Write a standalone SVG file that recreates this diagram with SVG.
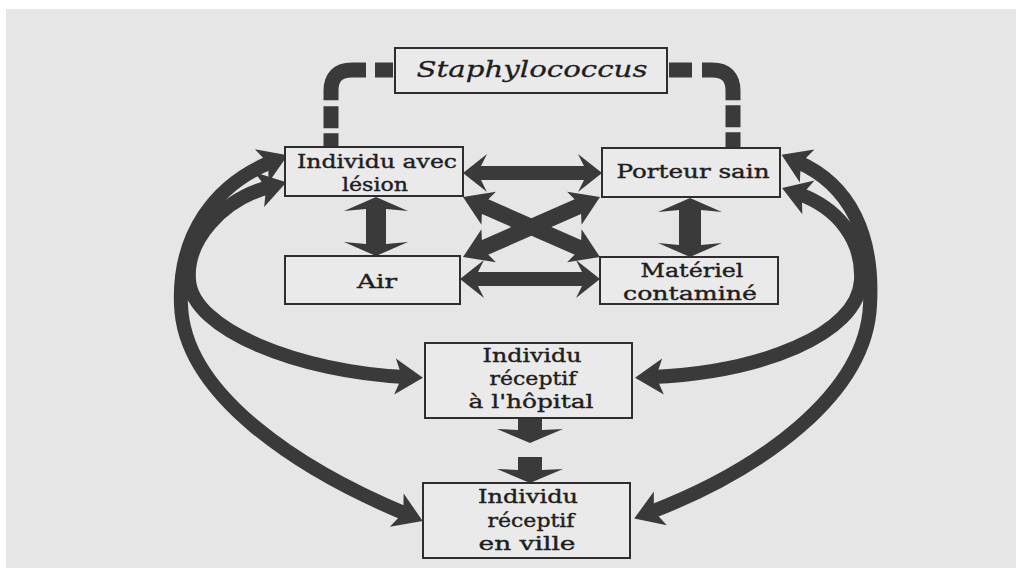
<svg xmlns="http://www.w3.org/2000/svg" width="1016" height="568" viewBox="0 0 1016 568">
<style>
.box{fill:#eaeaea;stroke:#2e2e2e;stroke-width:2}
.t{font-family:"DejaVu Serif","Liberation Serif",serif;font-size:19px;fill:#1e1e1e;stroke:#1e1e1e;stroke-width:0.4;text-anchor:middle}
.ti{font-family:"DejaVu Serif","Liberation Serif",serif;font-style:italic;font-size:23px;fill:#1e1e1e;stroke:#1e1e1e;stroke-width:0.3;text-anchor:middle}
.arr{fill:#3a3a3a}
.cv{fill:none;stroke:#3a3a3a;stroke-width:14;marker-start:url(#ah);marker-end:url(#ah)}
.xa{fill:none;stroke:#3a3a3a;stroke-width:16;marker-start:url(#ah);marker-end:url(#ah)}
.dash{fill:none;stroke:#3a3a3a;stroke-width:15}
</style>
<defs>
<marker id="ah" viewBox="0 -18 28 36" refX="10" refY="0" markerWidth="28" markerHeight="36" markerUnits="userSpaceOnUse" orient="auto-start-reverse" overflow="visible">
<path d="M0,-18 L28,0 L0,18 L7,0 Z" fill="#3a3a3a"/>
</marker>
</defs>
<rect x="0" y="0" width="1016" height="568" fill="#ffffff"/>
<rect x="6" y="9" width="1010" height="559" fill="#e6e6e6"/>

<g id="connectors">
<path class="dash" d="M393,70 H352 Q331,70 331,91 V147" stroke-dasharray="18 9 57 6 22 5 20"/>
<path class="dash" d="M669,70 H712 Q733,70 733,91 V148" stroke-dasharray="23 10 53 5 22 5 20"/>
<polygon class="arr" points="463,173 487,154 481,166 584,166 578,154 602,173 578,192 584,180 481,180 487,192"/>
<polygon class="arr" points="460,279 484,260 478,272 582,272 576,260 600,279 576,298 582,286 478,286 484,298"/>
<polygon class="arr" points="376,197 408,211 386,209 386,244 408,242 376,256 344,242 366,244 366,209 344,211"/>
<polygon class="arr" points="690,198 722,212 701,210 701,245 722,243 690,257 658,243 679,245 679,210 658,212"/>
<path class="xa" d="M479.5,204.2 L583.5,249.8"/>
<path class="xa" d="M479.5,249.8 L583.5,204.2"/>
<path class="cv" d="M271,162 C215,185 178,235 181,305 C184,395 300,470 406,514"/>
<path class="cv" d="M269,187 C222,200 186,240 189,280 C192,330 300,372 405,377"/>
<path class="cv" d="M798,162 C850,185 874,235 870,305 C866,395 760,470 651,512"/>
<path class="cv" d="M799,194 C838,208 863,240 861,280 C858,335 760,372 653,377"/>
<polygon class="arr" points="518,418 542,418 542,430 563,429 530,443 497,429 518,430"/>
<polygon class="arr" points="518,457 542,457 542,470 563,469 530,483 497,469 518,470"/>
</g>

<g id="staphylococcus">
<rect class="box" x="395" y="48" width="272" height="45"/>
<text class="ti" x="532" y="77" textLength="231" lengthAdjust="spacingAndGlyphs">Staphylococcus</text>
</g>
<g id="individu-lesion">
<rect class="box" x="285" y="147" width="178" height="49"/>
<text class="t" x="377" y="168" textLength="160" lengthAdjust="spacingAndGlyphs">Individu avec</text>
<text class="t" x="375" y="191" textLength="66" lengthAdjust="spacingAndGlyphs">lésion</text>
</g>
<g id="porteur-sain">
<rect class="box" x="602" y="148" width="178" height="49"/>
<text class="t" x="693" y="178" textLength="153" lengthAdjust="spacingAndGlyphs">Porteur sain</text>
</g>
<g id="air">
<rect class="box" x="285" y="256" width="175" height="48"/>
<text class="t" x="377" y="288" textLength="40" lengthAdjust="spacingAndGlyphs">Air</text>
</g>
<g id="materiel">
<rect class="box" x="600" y="257" width="178" height="47"/>
<text class="t" x="692" y="277" textLength="103" lengthAdjust="spacingAndGlyphs">Matériel</text>
<text class="t" x="690" y="300" textLength="134" lengthAdjust="spacingAndGlyphs">contaminé</text>
</g>
<g id="receptif-hopital">
<rect class="box" x="425" y="343" width="207" height="75"/>
<text class="t" x="532" y="362" textLength="99" lengthAdjust="spacingAndGlyphs">Individu</text>
<text class="t" x="533" y="385" textLength="87" lengthAdjust="spacingAndGlyphs">réceptif</text>
<text class="t" x="531" y="408" textLength="125" lengthAdjust="spacingAndGlyphs">à l'hôpital</text>
</g>
<g id="receptif-ville">
<rect class="box" x="423" y="483" width="207" height="75"/>
<text class="t" x="528" y="503" textLength="100" lengthAdjust="spacingAndGlyphs">Individu</text>
<text class="t" x="531" y="527" textLength="87" lengthAdjust="spacingAndGlyphs">réceptif</text>
<text class="t" x="527" y="550" textLength="97" lengthAdjust="spacingAndGlyphs">en ville</text>
</g>
</svg>
